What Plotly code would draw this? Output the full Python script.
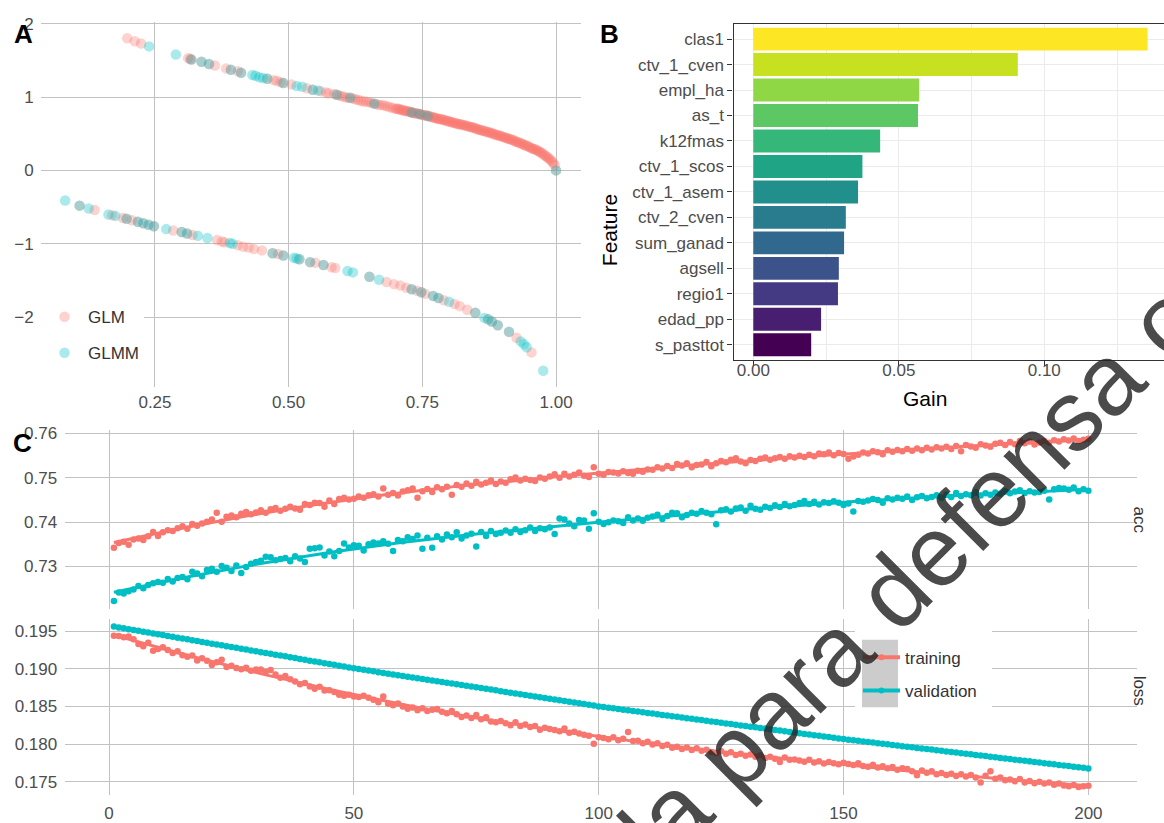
import numpy as np
import plotly.graph_objects as go

W, H = 1164, 823

# ---------------- Panel A data (fitted probability vs deviance residual) -------------
glm_upper_x = [0.198, 0.212, 0.224, 0.312, 0.316, 0.318, 0.337, 0.351, 0.362, 0.383, 0.392, 0.405,
               0.411, 0.460, 0.472, 0.478, 0.485, 0.490, 0.505, 0.534, 0.545, 0.560, 0.570, 0.575,
               0.585, 0.590, 0.595, 0.600, 0.605, 0.610, 0.615, 0.620, 0.625, 0.630, 0.635, 0.640,
               0.645, 0.650, 0.655, 0.660, 0.665, 0.670, 0.675, 0.680, 0.685, 0.690, 0.695,
               0.7000, 0.7025, 0.7050, 0.7075, 0.7100, 0.7125, 0.7150, 0.7175, 0.7200, 0.7225,
               0.7250, 0.7275, 0.7300, 0.7325, 0.7350, 0.7375, 0.7400, 0.7425, 0.7450, 0.7475,
               0.7500, 0.7525, 0.7550, 0.7575, 0.7600, 0.7625, 0.7650, 0.7675, 0.7700, 0.7725,
               0.7750, 0.7775, 0.7800, 0.7825, 0.7850, 0.7875, 0.7900, 0.7925, 0.7950, 0.7975,
               0.8000, 0.8025, 0.8050, 0.8075, 0.8100, 0.8125, 0.8150, 0.8175, 0.8200, 0.8225,
               0.8250, 0.8275, 0.8300, 0.8325, 0.8350, 0.8375, 0.8400, 0.8425, 0.8450, 0.8475,
               0.8500, 0.8525, 0.8550, 0.8575, 0.8600, 0.8625, 0.8650, 0.8675, 0.8700, 0.8725,
               0.8750, 0.8775, 0.8800, 0.8825, 0.8850, 0.8875, 0.8900, 0.8925, 0.8950, 0.8975,
               0.9000, 0.9025, 0.9050, 0.9075, 0.9100, 0.9125, 0.9150, 0.9175, 0.9200, 0.9225,
               0.9250, 0.9275, 0.9300, 0.9325, 0.9350, 0.9375, 0.9400, 0.9425, 0.9450, 0.9475,
               0.9500, 0.9525, 0.9550, 0.9575, 0.9600, 0.9625, 0.9650, 0.9675, 0.9700, 0.9725,
               0.9750, 0.9775, 0.9800, 0.9825, 0.9850, 0.9875, 0.9900, 0.9925, 0.9950, 0.9975,
               1.0000]
glm_upper_y = [1.80, 1.76, 1.73, 1.53, 1.52, 1.51, 1.48, 1.45, 1.43, 1.39, 1.37, 1.35,
               1.33, 1.25, 1.23, 1.22, 1.20, 1.19, 1.17, 1.12, 1.10, 1.08, 1.06, 1.05,
               1.04, 1.03, 1.02, 1.01, 1.00, 0.99, 0.99, 0.98, 0.97, 0.96, 0.95, 0.94,
               0.94, 0.93, 0.92, 0.91, 0.90, 0.89, 0.89, 0.88, 0.87, 0.86, 0.85,
               0.84, 0.84, 0.84, 0.83, 0.83, 0.82, 0.82, 0.81, 0.81, 0.81,
               0.80, 0.80, 0.79, 0.79, 0.78, 0.78, 0.78, 0.77, 0.77, 0.76,
               0.76, 0.75, 0.75, 0.75, 0.74, 0.74, 0.73, 0.73, 0.72, 0.72,
               0.71, 0.71, 0.70, 0.70, 0.70, 0.69, 0.69, 0.68, 0.68, 0.67,
               0.67, 0.66, 0.66, 0.65, 0.65, 0.64, 0.64, 0.63, 0.63, 0.63,
               0.62, 0.62, 0.61, 0.61, 0.60, 0.60, 0.59, 0.59, 0.58, 0.58,
               0.57, 0.56, 0.56, 0.55, 0.55, 0.54, 0.54, 0.53, 0.53, 0.52,
               0.52, 0.51, 0.51, 0.50, 0.49, 0.49, 0.48, 0.48, 0.47, 0.47,
               0.46, 0.45, 0.45, 0.44, 0.43, 0.43, 0.42, 0.42, 0.41, 0.40,
               0.39, 0.39, 0.38, 0.37, 0.37, 0.36, 0.35, 0.34, 0.34, 0.33,
               0.32, 0.31, 0.30, 0.29, 0.29, 0.28, 0.27, 0.26, 0.25, 0.24,
               0.23, 0.21, 0.20, 0.19, 0.17, 0.16, 0.14, 0.12, 0.10, 0.07,
               0.00]
glm_lower_x = [0.109, 0.137, 0.170, 0.190, 0.197, 0.207, 0.218, 0.228, 0.238, 0.248, 0.284, 0.300,
               0.310, 0.320, 0.366, 0.375, 0.380, 0.405, 0.415, 0.425, 0.435, 0.450, 0.470, 0.480,
               0.490, 0.520, 0.540, 0.550, 0.565, 0.580, 0.587, 0.651, 0.683, 0.697, 0.709, 0.720,
               0.730, 0.740, 0.748, 0.755, 0.770, 0.780, 0.790, 0.810, 0.820, 0.834, 0.849, 0.873,
               0.880, 0.891, 0.912, 0.926, 0.954]
glm_lower_y = [-0.48, -0.54, -0.61, -0.65, -0.66, -0.68, -0.70, -0.72, -0.74, -0.76, -0.82, -0.84,
               -0.86, -0.88, -0.95, -0.97, -0.98, -1.02, -1.04, -1.05, -1.07, -1.09, -1.13, -1.14,
               -1.16, -1.21, -1.25, -1.26, -1.29, -1.32, -1.33, -1.45, -1.52, -1.55, -1.57, -1.60,
               -1.62, -1.64, -1.66, -1.68, -1.71, -1.74, -1.77, -1.82, -1.85, -1.90, -1.94, -2.03,
               -2.06, -2.11, -2.20, -2.28, -2.48]

glmm_x = [0.239, 0.289, 0.318, 0.337, 0.351, 0.392, 0.411, 0.432, 0.438, 0.445, 0.452, 0.460,
          0.490, 0.515, 0.525, 0.545, 0.555, 0.590, 0.615, 0.660, 0.730, 0.745, 0.760, 1.000,
          0.082, 0.109, 0.126, 0.163, 0.176, 0.197, 0.218, 0.228, 0.238, 0.248, 0.271, 0.300,
          0.310, 0.330, 0.348, 0.390, 0.395, 0.470, 0.490, 0.510, 0.515, 0.520, 0.540, 0.565,
          0.610, 0.620, 0.651, 0.669, 0.730, 0.748, 0.770, 0.780, 0.800, 0.849, 0.866, 0.873,
          0.880, 0.891, 0.912, 0.934, 0.940, 0.945, 0.976]
glmm_y = [1.69, 1.58, 1.51, 1.48, 1.45, 1.37, 1.33, 1.30, 1.29, 1.27, 1.26, 1.25,
          1.19, 1.15, 1.14, 1.10, 1.09, 1.03, 0.99, 0.91, 0.79, 0.77, 0.74, 0.00,
          -0.41, -0.48, -0.52, -0.60, -0.62, -0.66, -0.70, -0.72, -0.74, -0.76, -0.80, -0.84,
          -0.86, -0.89, -0.92, -0.99, -1.00, -1.13, -1.16, -1.19, -1.20, -1.21, -1.25, -1.29,
          -1.37, -1.39, -1.45, -1.49, -1.62, -1.66, -1.71, -1.74, -1.79, -1.94, -2.01, -2.03,
          -2.06, -2.11, -2.20, -2.33, -2.37, -2.41, -2.73]

# ---------------- Panel B data (feature importance) ----------------
features = ["clas1", "ctv_1_cven", "empl_ha", "as_t", "k12fmas", "ctv_1_scos", "ctv_1_asem",
            "ctv_2_cven", "sum_ganad", "agsell", "regio1", "edad_pp", "s_pasttot"]
gain = [0.1355, 0.0909, 0.0570, 0.0566, 0.0436, 0.0375, 0.0360,
        0.0318, 0.0312, 0.0294, 0.0291, 0.0233, 0.0199]
bar_colors = ["#FDE725", "#C7E020", "#8FD744", "#5DC863", "#35B779", "#20A486", "#21908C",
              "#287C8E", "#31688E", "#3B528B", "#443A83", "#481F70", "#440154"]

# ---------------- Panel C data (training history) ----------------
epochs = list(range(1, 201))
train_acc = [
    0.7342, 0.7353, 0.7356, 0.7349, 0.7361, 0.7363, 0.7360, 0.7368, 0.7378, 0.7369,
    0.7377, 0.7382, 0.7380, 0.7386, 0.7391, 0.7385, 0.7396, 0.7392, 0.7397, 0.7401,
    0.7406, 0.7421, 0.7401, 0.7412, 0.7415, 0.7411, 0.7419, 0.7423, 0.7418, 0.7422,
    0.7427, 0.7421, 0.7429, 0.7432, 0.7426, 0.7430, 0.7435, 0.7431, 0.7428, 0.7441,
    0.7439, 0.7444, 0.7443, 0.7435, 0.7449, 0.7441, 0.7452, 0.7455, 0.7451, 0.7453,
    0.7458, 0.7455, 0.7461, 0.7463, 0.7458, 0.7476, 0.7462, 0.7466, 0.7460, 0.7469,
    0.7472, 0.7476, 0.7455, 0.7470, 0.7475, 0.7468, 0.7479, 0.7474, 0.7480, 0.7462,
    0.7484, 0.7480, 0.7487, 0.7482, 0.7491, 0.7485, 0.7489, 0.7494, 0.7486, 0.7492,
    0.7489, 0.7497, 0.7501, 0.7494, 0.7498, 0.7495, 0.7493, 0.7501, 0.7498, 0.7503,
    0.7508, 0.7500, 0.7509, 0.7503, 0.7507, 0.7512, 0.7505, 0.7502, 0.7524, 0.7509,
    0.7507, 0.7513, 0.7512, 0.7510, 0.7515, 0.7511, 0.7509, 0.7516, 0.7514, 0.7519,
    0.7518, 0.7524, 0.7521, 0.7527, 0.7522, 0.7531, 0.7528, 0.7533, 0.7524, 0.7529,
    0.7530, 0.7536, 0.7526, 0.7533, 0.7538, 0.7535, 0.7541, 0.7544, 0.7537, 0.7533,
    0.7540, 0.7538, 0.7543, 0.7546, 0.7541, 0.7544, 0.7547, 0.7543, 0.7549, 0.7546,
    0.7550, 0.7547, 0.7552, 0.7549, 0.7555, 0.7553, 0.7557, 0.7551, 0.7556, 0.7554,
    0.7543, 0.7548, 0.7552, 0.7557, 0.7555, 0.7560, 0.7558, 0.7553, 0.7562, 0.7559,
    0.7563, 0.7560, 0.7565, 0.7561, 0.7566, 0.7562, 0.7568, 0.7564, 0.7569, 0.7566,
    0.7570, 0.7565, 0.7572, 0.7560, 0.7574, 0.7571, 0.7568, 0.7576, 0.7573, 0.7570,
    0.7577, 0.7579, 0.7574, 0.7581, 0.7576, 0.7583, 0.7578, 0.7582, 0.7575, 0.7580,
    0.7583, 0.7579, 0.7585, 0.7582, 0.7587, 0.7584, 0.7589, 0.7583, 0.7586, 0.7588]
val_acc = [
    0.7222, 0.7241, 0.7239, 0.7244, 0.7248, 0.7256, 0.7251, 0.7258, 0.7262, 0.7265,
    0.7263, 0.7272, 0.7266, 0.7274, 0.7276, 0.7271, 0.7288, 0.7284, 0.7278, 0.7292,
    0.7295, 0.7288, 0.7301, 0.7297, 0.7290, 0.7302, 0.7285, 0.7299, 0.7306, 0.7310,
    0.7313, 0.7322, 0.7321, 0.7314, 0.7317, 0.7319, 0.7312, 0.7323, 0.7318, 0.7310,
    0.7340, 0.7341, 0.7343, 0.7325, 0.7334, 0.7323, 0.7335, 0.7352, 0.7343, 0.7348,
    0.7347, 0.7336, 0.7350, 0.7354, 0.7352, 0.7357, 0.7351, 0.7335, 0.7360, 0.7357,
    0.7366, 0.7362, 0.7370, 0.7340, 0.7365, 0.7342, 0.7368, 0.7361, 0.7372, 0.7366,
    0.7377, 0.7363, 0.7370, 0.7374, 0.7345, 0.7378, 0.7369, 0.7380, 0.7373, 0.7376,
    0.7381, 0.7376, 0.7384, 0.7378, 0.7382, 0.7388, 0.7380, 0.7386, 0.7384, 0.7388,
    0.7373, 0.7408, 0.7406, 0.7397, 0.7391, 0.7405, 0.7404, 0.7385, 0.7420, 0.7401,
    0.7396, 0.7400, 0.7404, 0.7402, 0.7398, 0.7411, 0.7404, 0.7408, 0.7403, 0.7410,
    0.7413, 0.7417, 0.7407, 0.7414, 0.7421, 0.7420, 0.7411, 0.7416, 0.7421, 0.7419,
    0.7425, 0.7421, 0.7418, 0.7395, 0.7427, 0.7429, 0.7424, 0.7431, 0.7433, 0.7426,
    0.7437, 0.7430, 0.7428, 0.7435, 0.7432, 0.7438, 0.7434, 0.7441, 0.7436, 0.7439,
    0.7443, 0.7448, 0.7441, 0.7446, 0.7440, 0.7445, 0.7443, 0.7447, 0.7444, 0.7439,
    0.7442, 0.7424, 0.7448, 0.7446, 0.7449, 0.7452, 0.7450, 0.7444, 0.7454, 0.7451,
    0.7455, 0.7453, 0.7458, 0.7450, 0.7456, 0.7459, 0.7454, 0.7457, 0.7461, 0.7455,
    0.7462, 0.7457, 0.7466, 0.7459, 0.7463, 0.7461, 0.7468, 0.7460, 0.7465, 0.7462,
    0.7467, 0.7464, 0.7470, 0.7465, 0.7469, 0.7472, 0.7466, 0.7470, 0.7467, 0.7468,
    0.7471, 0.7451, 0.7474, 0.7477, 0.7476, 0.7473, 0.7478, 0.7470, 0.7474, 0.7471]
train_loss = [
    0.19440, 0.19436, 0.19418, 0.19428, 0.19392, 0.19330, 0.19300, 0.19345, 0.19240, 0.19262,
    0.19285, 0.19250, 0.19210, 0.19232, 0.19180, 0.19160, 0.19175, 0.19110, 0.19140, 0.19105,
    0.19050, 0.19085, 0.19120, 0.19025, 0.19040, 0.19010, 0.18995, 0.19015, 0.18975, 0.18990,
    0.18990, 0.18960, 0.18985, 0.18925, 0.18880, 0.18905, 0.18860, 0.18830, 0.18795, 0.18810,
    0.18765, 0.18735, 0.18760, 0.18710, 0.18715, 0.18690, 0.18655, 0.18640, 0.18655, 0.18630,
    0.18625, 0.18640, 0.18615, 0.18590, 0.18555, 0.18630, 0.18535, 0.18515, 0.18540, 0.18500,
    0.18470, 0.18485, 0.18450, 0.18475, 0.18440, 0.18455, 0.18465, 0.18430, 0.18410, 0.18440,
    0.18395, 0.18360, 0.18380, 0.18345, 0.18385, 0.18330, 0.18355, 0.18300, 0.18290, 0.18305,
    0.18275, 0.18250, 0.18290, 0.18240, 0.18260, 0.18225, 0.18240, 0.18190, 0.18215, 0.18200,
    0.18185, 0.18170, 0.18205, 0.18150, 0.18165, 0.18140, 0.18125, 0.18110, 0.18005, 0.18090,
    0.18080, 0.18065, 0.18090, 0.18050, 0.18070, 0.18160, 0.18040, 0.18045, 0.18010, 0.18030,
    0.17995, 0.18010, 0.17975, 0.17990, 0.17950, 0.17965, 0.17935, 0.17955, 0.17920, 0.17945,
    0.17910, 0.17925, 0.17895, 0.17880, 0.17905, 0.17870, 0.17890, 0.17855, 0.17870, 0.17845,
    0.17860, 0.17830, 0.17850, 0.17815, 0.17830, 0.17805, 0.17760, 0.17820, 0.17790, 0.17795,
    0.17780, 0.17765, 0.17790, 0.17755, 0.17770, 0.17740, 0.17760, 0.17745, 0.17730, 0.17750,
    0.17735, 0.17720, 0.17745, 0.17710, 0.17700, 0.17725, 0.17690, 0.17705, 0.17680, 0.17695,
    0.17660, 0.17680, 0.17670, 0.17640, 0.17585, 0.17650, 0.17620, 0.17640, 0.17600, 0.17615,
    0.17590, 0.17605, 0.17575, 0.17600, 0.17570, 0.17590, 0.17555, 0.17490, 0.17580, 0.17640,
    0.17540, 0.17555, 0.17520, 0.17530, 0.17505, 0.17535, 0.17490, 0.17510, 0.17480, 0.17500,
    0.17475, 0.17490, 0.17460, 0.17475, 0.17450, 0.17440, 0.17455, 0.17430, 0.17440, 0.17445]
val_loss = [
    0.19560, 0.19549, 0.19537, 0.19526, 0.19515, 0.19504, 0.19492, 0.19481, 0.19470, 0.19458,
    0.19447, 0.19436, 0.19424, 0.19413, 0.19402, 0.19391, 0.19379, 0.19368, 0.19357, 0.19345,
    0.19334, 0.19323, 0.19311, 0.19300, 0.19289, 0.19278, 0.19266, 0.19255, 0.19244, 0.19232,
    0.19221, 0.19210, 0.19198, 0.19187, 0.19176, 0.19165, 0.19153, 0.19142, 0.19131, 0.19119,
    0.19108, 0.19097, 0.19085, 0.19074, 0.19063, 0.19052, 0.19040, 0.19029, 0.19018, 0.19006,
    0.18996, 0.18986, 0.18976, 0.18966, 0.18955, 0.18945, 0.18935, 0.18925, 0.18915, 0.18905,
    0.18895, 0.18885, 0.18875, 0.18864, 0.18854, 0.18844, 0.18834, 0.18824, 0.18814, 0.18804,
    0.18794, 0.18784, 0.18773, 0.18763, 0.18753, 0.18743, 0.18733, 0.18723, 0.18713, 0.18703,
    0.18693, 0.18682, 0.18672, 0.18662, 0.18652, 0.18642, 0.18632, 0.18622, 0.18612, 0.18602,
    0.18591, 0.18581, 0.18571, 0.18561, 0.18551, 0.18541, 0.18531, 0.18521, 0.18511, 0.18500,
    0.18491, 0.18483, 0.18474, 0.18465, 0.18457, 0.18448, 0.18439, 0.18431, 0.18422, 0.18413,
    0.18405, 0.18396, 0.18387, 0.18378, 0.18370, 0.18361, 0.18352, 0.18344, 0.18335, 0.18326,
    0.18318, 0.18309, 0.18300, 0.18292, 0.18283, 0.18274, 0.18266, 0.18257, 0.18248, 0.18240,
    0.18231, 0.18222, 0.18213, 0.18205, 0.18196, 0.18187, 0.18179, 0.18170, 0.18161, 0.18153,
    0.18144, 0.18135, 0.18127, 0.18118, 0.18109, 0.18101, 0.18092, 0.18083, 0.18075, 0.18066,
    0.18058, 0.18050, 0.18043, 0.18035, 0.18027, 0.18019, 0.18011, 0.18004, 0.17996, 0.17988,
    0.17980, 0.17972, 0.17965, 0.17957, 0.17949, 0.17941, 0.17933, 0.17926, 0.17918, 0.17910,
    0.17902, 0.17894, 0.17887, 0.17879, 0.17871, 0.17863, 0.17855, 0.17848, 0.17840, 0.17832,
    0.17824, 0.17816, 0.17809, 0.17801, 0.17793, 0.17785, 0.17777, 0.17770, 0.17762, 0.17754,
    0.17746, 0.17738, 0.17731, 0.17723, 0.17715, 0.17707, 0.17699, 0.17692, 0.17684, 0.17676]


def loess(x, y, span=0.75):
    """Local quadratic regression with tricube weights (like geom_smooth's loess)."""
    x = np.asarray(x, float)
    y = np.asarray(y, float)
    n = len(x)
    k = int(np.ceil(span * n))
    out = np.empty(n)
    for i, x0 in enumerate(x):
        d = np.abs(x - x0)
        h = np.sort(d)[k - 1]
        w = np.clip(1 - (d / h) ** 3, 0, None) ** 3
        A = np.vstack([np.ones(n), x - x0, (x - x0) ** 2]).T
        sw = np.sqrt(w)
        beta = np.linalg.lstsq(A * sw[:, None], y * sw, rcond=None)[0]
        out[i] = beta[0]
    return out


RED = "#F8766D"
TEAL = "#00BFC4"
FONT = "Liberation Sans"
GRID = "#c2c2c2"
TICKC = "#4d4d4d"

fig = go.Figure()

# ---- Panel A
fig.add_trace(go.Scatter(x=glm_upper_x + glm_lower_x, y=glm_upper_y + glm_lower_y,
                         mode="markers", name="GLM",
                         marker=dict(color=RED, size=10.5, opacity=0.33, line=dict(width=0)),
                         xaxis="x", yaxis="y", legend="legend2", legendgroup="glm"))
fig.add_trace(go.Scatter(x=glmm_x, y=glmm_y, mode="markers", name="GLMM",
                         marker=dict(color=TEAL, size=10.5, opacity=0.33, line=dict(width=0)),
                         xaxis="x", yaxis="y", legend="legend2", legendgroup="glmm"))

# ---- Panel B
fig.add_trace(go.Bar(x=gain, y=features, orientation="h",
                     marker=dict(color=bar_colors, line=dict(width=0)),
                     width=0.9, showlegend=False, xaxis="x2", yaxis="y2"))

# ---- Panel C
for series, color, ax in [(train_acc, RED, "3"), (val_acc, TEAL, "3"),
                          (train_loss, RED, "4"), (val_loss, TEAL, "4")]:
    fig.add_trace(go.Scatter(x=epochs, y=series, mode="markers", showlegend=False,
                             marker=dict(color=color, size=6.5, line=dict(width=0)),
                             xaxis="x" + ax, yaxis="y" + ax))
    fig.add_trace(go.Scatter(x=epochs, y=loess(epochs, series), mode="lines", showlegend=False,
                             line=dict(color=color, width=3), xaxis="x" + ax, yaxis="y" + ax))

for name, color, grp in [("training", RED, "tr"), ("validation", TEAL, "va")]:
    fig.add_trace(go.Scatter(x=[None], y=[None], mode="lines+markers", name=name,
                             line=dict(color=color, width=4), marker=dict(color=color, size=6),
                             xaxis="x4", yaxis="y4", legend="legend", legendgroup=grp))

tickfont = dict(family=FONT, size=17, color=TICKC)


def px_x(p):
    return p / W


def px_y(p):
    return 1 - p / H


common_grid = dict(showgrid=True, gridcolor=GRID, gridwidth=1, zeroline=False, showline=False,
                   ticks="", tickfont=tickfont)

fig.update_layout(
    width=W, height=H, autosize=False,
    margin=dict(l=0, r=0, t=0, b=0),
    paper_bgcolor="white", plot_bgcolor="white",
    font=dict(family=FONT, size=17, color="#333333"),
    # Panel A axes
    xaxis=dict(domain=[px_x(40.6), px_x(580.6)], range=[0.0361, 1.0459], anchor="y",
               tickvals=[0.25, 0.5, 0.75, 1.0], ticktext=["0.25", "0.50", "0.75", "1.00"],
               ticklabelstandoff=3, **common_grid),
    yaxis=dict(domain=[px_y(384.2), px_y(14.8)], range=[-2.958, 2.027], anchor="x",
               tickvals=[-2, -1, 0, 1, 2], ticktext=["\u22122", "\u22121", "0", "1", "2"],
               ticklabelstandoff=6, **common_grid),
    # Panel B axes
    xaxis2=dict(domain=[px_x(733.5), 1.0], range=[-0.0068, 0.14114], anchor="y2",
                tickvals=[0, 0.05, 0.10], ticktext=["0.00", "0.05", "0.10"],
                showgrid=True, gridcolor="#ebebeb", gridwidth=1.4, zeroline=False,
                minor=dict(tickvals=[0.025, 0.075, 0.125], showgrid=True, gridcolor="#ebebeb",
                           gridwidth=0.8),
                showline=True, linecolor="#333333", linewidth=1.4, mirror=True,
                ticks="outside", ticklen=5, tickcolor="#333333", tickwidth=1, tickfont=tickfont,
                ticklabelstandoff=-11),
    yaxis2=dict(domain=[px_y(356.5), px_y(17)], anchor="x2", type="category",
                categoryorder="array", categoryarray=features[::-1], range=[-0.6, 12.6],
                showgrid=True, gridcolor="#ebebeb", gridwidth=1.4, zeroline=False,
                showline=True, linecolor="#333333", linewidth=1.4, mirror=False,
                ticks="outside", ticklen=5, tickcolor="#333333", tickwidth=1, tickfont=tickfont),
    # Panel C axes
    xaxis3=dict(domain=[px_x(65.2), px_x(1137.1)], range=[-8.95, 209.95], anchor="y3",
                tickvals=[0, 50, 100, 150, 200], showticklabels=False, matches="x4", **common_grid),
    yaxis3=dict(domain=[px_y(608.1), px_y(427.4)], range=[0.72036, 0.76074], anchor="x3",
                tickvals=[0.73, 0.74, 0.75, 0.76], ticktext=["0.73", "0.74", "0.75", "0.76"],
                ticklabelstandoff=7, **common_grid),
    xaxis4=dict(domain=[px_x(65.2), px_x(1137.1)], range=[-8.95, 209.95], anchor="y4",
                tickvals=[0, 50, 100, 150, 200], ticklabelstandoff=6, **common_grid),
    yaxis4=dict(domain=[px_y(795.7), px_y(617.6)], range=[0.173235, 0.196665], anchor="x4",
                tickvals=[0.175, 0.18, 0.185, 0.19, 0.195],
                ticktext=["0.175", "0.180", "0.185", "0.190", "0.195"],
                ticklabelstandoff=7, **common_grid),
    legend=dict(x=px_x(858), y=px_y(639), xanchor="left", yanchor="top",
                bgcolor="rgba(0,0,0,0)", font=dict(family=FONT, size=17, color="#333333"),
                tracegroupgap=8, itemwidth=37),
    legend2=dict(x=px_x(41), y=px_y(295), xanchor="left", yanchor="top",
                 bgcolor="white", font=dict(family=FONT, size=17, color="#333333"),
                 tracegroupgap=11, itemwidth=37),
    bargap=0.1,
)

# legend backgrounds for panel C (white box + grey key area)
fig.add_shape(type="rect", xref="paper", yref="paper", x0=px_x(855), x1=px_x(992),
              y0=px_y(713), y1=px_y(624), fillcolor="white", line=dict(width=0), layer="above")
fig.add_shape(type="rect", xref="paper", yref="paper", x0=px_x(862), x1=px_x(898),
              y0=px_y(707), y1=px_y(639), fillcolor="#cccccc", line=dict(width=0), layer="above")

annotations = [
    dict(text="<b>A</b>", x=px_x(23), y=px_y(27)),
    dict(text="<b>B</b>", x=px_x(609), y=px_y(27)),
    dict(text="<b>C</b>", x=px_x(22), y=px_y(440)),
]
for a in annotations:
    fig.add_annotation(xref="paper", yref="paper", showarrow=False, xanchor="center",
                       yanchor="middle", font=dict(family=FONT, size=26, color="black"), **a)

fig.add_annotation(text="Feature", xref="paper", yref="paper", x=px_x(609), y=px_y(187),
                   textangle=-90, showarrow=False, font=dict(family=FONT, size=21, color="black"))
fig.add_annotation(text="Gain", xref="paper", yref="paper", x=px_x(949), y=px_y(395),
                   showarrow=False, font=dict(family=FONT, size=21, color="black"))
fig.add_annotation(text="acc", xref="paper", yref="paper", x=px_x(1151), y=px_y(518),
                   textangle=90, showarrow=False, font=dict(family=FONT, size=17, color="#333333"))
fig.add_annotation(text="loss", xref="paper", yref="paper", x=px_x(1151), y=px_y(707),
                   textangle=90, showarrow=False, font=dict(family=FONT, size=17, color="#333333"))

# watermark
fig.add_annotation(text="la para defensa o", xref="paper", yref="paper", x=px_x(911), y=px_y(573),
                   textangle=-45, showarrow=False, xanchor="center", yanchor="middle",
                   font=dict(family=FONT, size=100, color="rgba(35,35,35,0.82)"))

fig.write_html("out.html", config={"displayModeBar": False},
               post_script="document.body.style.margin='0px';")
